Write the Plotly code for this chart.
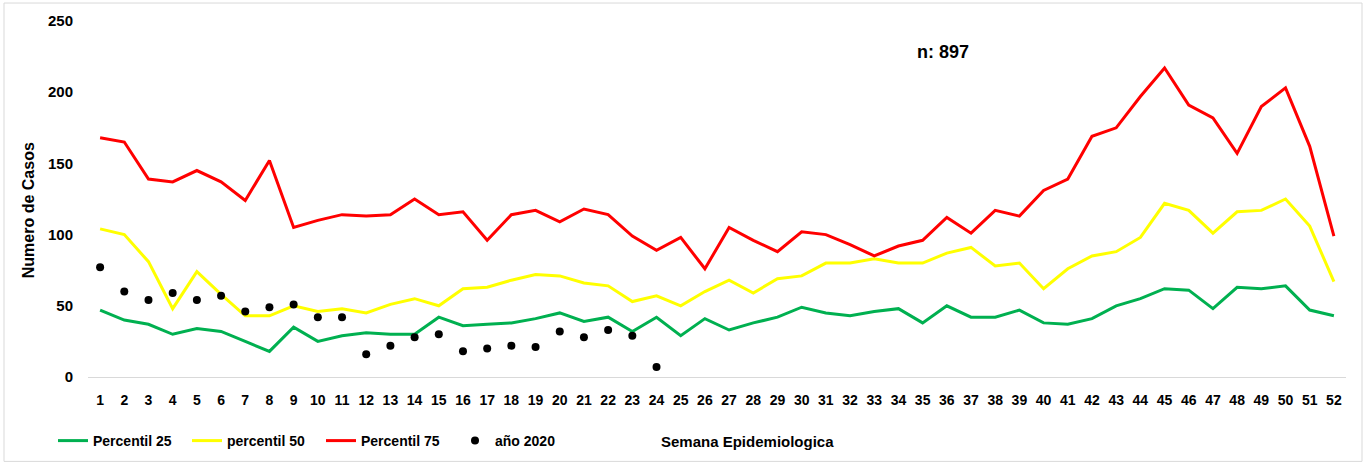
import plotly.graph_objects as go

weeks = list(range(1, 53))
p25 = [47, 40, 37, 30, 34, 32, 25, 18, 35, 25, 29, 31, 30, 30, 42, 36, 37, 38, 41, 45,
       39, 42, 32, 42, 29, 41, 33, 38, 42, 49, 45, 43, 46, 48, 38, 50, 42, 42, 47, 38,
       37, 41, 50, 55, 62, 61, 48, 63, 62, 64, 47, 43]
p50 = [104, 100, 81, 48, 74, 58, 43, 43, 50, 46, 48, 45, 51, 55, 50, 62, 63, 68, 72, 71,
       66, 64, 53, 57, 50, 60, 68, 59, 69, 71, 80, 80, 83, 80, 80, 87, 91, 78, 80, 62,
       76, 85, 88, 98, 122, 117, 101, 116, 117, 125, 106, 67]
p75 = [168, 165, 139, 137, 145, 137, 124, 152, 105, 110, 114, 113, 114, 125, 114, 116, 96, 114, 117, 109,
       118, 114, 99, 89, 98, 76, 105, 96, 88, 102, 100, 93, 85, 92, 96, 112, 101, 117, 113, 131,
       139, 169, 175, 197, 217, 191, 182, 157, 190, 203, 162, 99]
weeks_2020 = list(range(1, 25))
y2020 = [77, 60, 54, 59, 54, 57, 46, 49, 51, 42, 42, 16, 22, 28, 30, 18, 20, 22, 21, 32,
         28, 33, 29, 7]
y_ticks = [0, 50, 100, 150, 200, 250]

FONT = "Liberation Sans, Arial, sans-serif"

fig = go.Figure()
fig.add_trace(go.Scatter(x=weeks, y=p25, mode="lines", name="Percentil 25",
                         line=dict(color="#00B050", width=3)))
fig.add_trace(go.Scatter(x=weeks, y=p50, mode="lines", name="percentil 50",
                         line=dict(color="#FFFF00", width=3)))
fig.add_trace(go.Scatter(x=weeks, y=p75, mode="lines", name="Percentil 75",
                         line=dict(color="#FF0000", width=3)))
fig.add_trace(go.Scatter(x=weeks_2020, y=y2020, mode="markers", name="año 2020",
                         marker=dict(color="#000000", size=8)))

# body margin removed by post_script, so figure fills the window
W, H = 1369, 464
PL, PR, PT, PB = 88, 1346, 21, 377.5  # plot area in window pixels
L, T = PL, PT
R = W - PR
B = H - PB
pw, ph = W - L - R, H - T - B

def px_x(px):
    return (px - L) / pw

def px_y(py):
    return (H - B - py) / ph

fig.update_layout(
    width=W, height=H,
    margin=dict(l=L, r=R, t=T, b=B, autoexpand=False),
    paper_bgcolor="white", plot_bgcolor="white",
    font=dict(family=FONT, size=14, color="#000000", weight="bold"),
    showlegend=True,
    legend=dict(orientation="h", xref="container", yref="container",
                x=53 / W, y=(H - 441) / H, xanchor="left", yanchor="middle",
                font=dict(family=FONT, size=14, color="#000000", weight="bold"),
                entrywidth=89, entrywidthmode="pixels", bgcolor="rgba(0,0,0,0)",
                itemwidth=30),
    xaxis=dict(range=[0.5, 52.5], tickmode="array", tickvals=weeks,
               ticktext=[str(w) for w in weeks], showgrid=False, zeroline=False,
               showline=True, linecolor="#D9D9D9", linewidth=1, ticks="",
               ticklabelstandoff=10, automargin=False,
               tickfont=dict(family=FONT, size=14, weight="bold")),
    yaxis=dict(range=[0, 250], tickmode="array", tickvals=y_ticks, showgrid=False,
               zeroline=False, showline=False, ticks="", ticklabelstandoff=14,
               automargin=False,
               tickfont=dict(family=FONT, size=15, weight="bold")),
)

fig.add_annotation(text="Numero de Casos", xref="paper", yref="paper",
                   x=px_x(28.5), y=px_y(211), textangle=-90, showarrow=False,
                   xanchor="center", yanchor="middle",
                   font=dict(family=FONT, size=16, weight="bold"))
fig.add_annotation(text="Semana Epidemiologica", xref="paper", yref="paper",
                   x=px_x(747), y=px_y(442), showarrow=False,
                   xanchor="center", yanchor="middle",
                   font=dict(family=FONT, size=15, weight="bold"))
fig.add_annotation(text="n: 897", xref="paper", yref="paper",
                   x=px_x(943), y=px_y(52), showarrow=False,
                   xanchor="center", yanchor="middle",
                   font=dict(family=FONT, size=18, weight="bold"))

fig.add_shape(type="rect", xref="paper", yref="paper",
              x0=px_x(4), x1=px_x(1362), y0=px_y(462), y1=px_y(3),
              line=dict(color="#D9D9D9", width=1), fillcolor="rgba(0,0,0,0)", layer="below")

fig.write_html("out.html", config={"displayModeBar": False},
               post_script="document.body.style.margin='0';document.body.style.overflow='hidden';")
